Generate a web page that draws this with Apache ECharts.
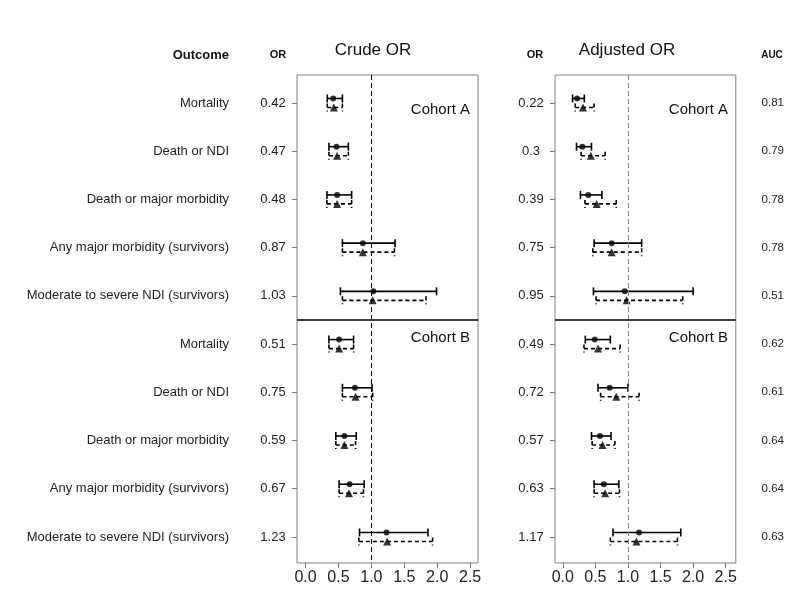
<!DOCTYPE html>
<html>
<head>
<meta charset="utf-8">
<script src="https://cdn.jsdelivr.net/npm/echarts@6/dist/echarts.min.js"></script>
<style>html,body{margin:0;padding:0;background:#fff}#c{width:787px;height:590px}</style>
</head>
<body>
<div id="c"></div>
<script>
var outcomes = ['Mortality','Death or NDI','Death or major morbidity','Any major morbidity (survivors)','Moderate to severe NDI (survivors)',
                'Mortality','Death or NDI','Death or major morbidity','Any major morbidity (survivors)','Moderate to severe NDI (survivors)'];
var rows = [0,1,2,3,4,5,6,7,8,9];
var crudeORLabels = ['0.42','0.47','0.48','0.87','1.03','0.51','0.75','0.59','0.67','1.23'];
var adjORLabels   = ['0.22','0.3','0.39','0.75','0.95','0.49','0.72','0.57','0.63','1.17'];
var aucLabels     = ['0.81','0.79','0.78','0.78','0.51','0.62','0.61','0.64','0.64','0.63'];
var xTicks = [0,0.5,1,1.5,2,2.5];

// Crude OR panel
var crudeSolidPt = [0.42,0.47,0.48,0.87,1.03,0.51,0.75,0.59,0.67,1.23];
var crudeSolidLo = [0.33,0.355,0.325,0.56,0.53,0.355,0.56,0.46,0.51,0.82];
var crudeSolidHi = [0.56,0.65,0.70,1.36,1.99,0.73,1.01,0.77,0.89,1.86];
var crudeDashPt  = [0.43,0.48,0.48,0.87,1.02,0.51,0.76,0.59,0.66,1.24];
var crudeDashLo  = [0.33,0.355,0.325,0.56,0.56,0.355,0.56,0.46,0.51,0.81];
var crudeDashHi  = [0.56,0.65,0.70,1.35,1.83,0.73,1.02,0.76,0.88,1.93];

// Adjusted OR panel
var adjSolidPt = [0.22,0.30,0.39,0.75,0.95,0.49,0.72,0.57,0.63,1.17];
var adjSolidLo = [0.15,0.21,0.27,0.48,0.47,0.345,0.54,0.44,0.48,0.77];
var adjSolidHi = [0.33,0.44,0.60,1.21,2.00,0.73,1.00,0.74,0.86,1.81];
var adjDashPt  = [0.31,0.43,0.52,0.75,0.98,0.54,0.82,0.61,0.65,1.13];
var adjDashLo  = [0.19,0.28,0.34,0.46,0.51,0.325,0.58,0.45,0.48,0.73];
var adjDashHi  = [0.48,0.65,0.82,1.21,1.84,0.88,1.17,0.80,0.87,1.76];

var FONT = '"Liberation Sans", Arial, sans-serif';

function barData(lo, hi){ return rows.map(function(r){ return [lo[r], hi[r], r]; }); }
function ptData(pt){ return rows.map(function(r){ return [pt[r], r]; }); }

function barRender(offset, dashed){
  return function(params, api){
    var a = api.coord([api.value(0), api.value(2)]);
    var b = api.coord([api.value(1), api.value(2)]);
    var y = a[1] + offset;
    var st = {stroke:'#000', lineWidth:1.6, lineDash: dashed ? [4,3] : null, fill:null};
    return {type:'group', children:[
      {type:'line', shape:{x1:a[0], y1:y, x2:b[0], y2:y}, style:st},
      {type:'line', shape:{x1:a[0], y1:y-4, x2:a[0], y2:y+4}, style:st},
      {type:'line', shape:{x1:b[0], y1:y-4, x2:b[0], y2:y+4}, style:st}
    ]};
  };
}

function xAxisFor(g, mn, mx){
  return {gridIndex:g, type:'value', min:mn, max:mx, position:'bottom',
    axisLine:{show:false, onZero:false}, splitLine:{show:false},
    axisTick:{show:true, customValues:xTicks, length:5, lineStyle:{color:'#777'}},
    axisLabel:{customValues:xTicks, formatter:function(v){return v.toFixed(1);}, fontSize:16, color:'#222', fontFamily:FONT, margin:7}};
}
function yAxisFor(g, labels, opts){
  return {gridIndex:g, type:'value', inverse:true, min:-0.58, max:9.54,
    position: opts.position || 'left',
    axisLine:{show:false, onZero:false}, splitLine:{show:false},
    axisTick:{show: !!opts.tick, customValues:rows, length:5, lineStyle:{color:'#777'}},
    axisLabel:{customValues:rows, formatter:function(v){return labels[Math.round(v)];},
      align: opts.align, margin: opts.margin, fontSize: opts.size, color:'#222', fontFamily:FONT}};
}

function panelSeries(xi, yi, sLo, sHi, sPt, dLo, dHi, dPt, refColor){
  return [
    {type:'custom', xAxisIndex:xi, yAxisIndex:yi, renderItem:barRender(-4.5,false), data:barData(sLo,sHi), encode:{x:[0,1], y:2}, z:3,
     markLine:{silent:true, symbol:'none', label:{show:false},
       data:[
         {xAxis:1, lineStyle:{type:[5,3], color:refColor, width:1}},
         {yAxis:4.5, lineStyle:{type:'solid', color:'#000', width:1.5}}
       ]}},
    {type:'custom', xAxisIndex:xi, yAxisIndex:yi, renderItem:barRender(4.5,true), data:barData(dLo,dHi), encode:{x:[0,1], y:2}, z:3},
    {type:'scatter', xAxisIndex:xi, yAxisIndex:yi, data:ptData(sPt), symbol:'circle', symbolSize:6, symbolOffset:[0,-4.5], itemStyle:{color:'#000'}, z:4},
    {type:'scatter', xAxisIndex:xi, yAxisIndex:yi, data:ptData(dPt), symbol:'triangle', symbolSize:8, symbolOffset:[0,4.5], itemStyle:{color:'#000'}, z:4}
  ];
}

function txt(x, y, s, size, weight, align){
  return {type:'text', x:x, y:y, style:{text:s, font:(weight||'normal')+' '+size+'px '+FONT, fill:'#111', align:align||'center', verticalAlign:'middle'}};
}

var chart = echarts.init(document.getElementById('c'), null, {renderer:'canvas'});
chart.setOption({
  animation:false,
  backgroundColor:'#fff',
  grid:[
    {left:297, top:75, width:181, height:488, show:true, borderColor:'#808080', borderWidth:1, backgroundColor:'transparent'},
    {left:555, top:75, width:182, height:488, show:true, borderColor:'#808080', borderWidth:1, backgroundColor:'transparent'}
  ],
  xAxis:[ xAxisFor(0, -0.13, 2.62), xAxisFor(1, -0.12, 2.655) ],
  yAxis:[
    yAxisFor(0, crudeORLabels, {tick:true, align:'center', margin:24, size:13}),
    yAxisFor(0, outcomes, {tick:false, align:'right', margin:68, size:13}),
    yAxisFor(1, adjORLabels, {tick:true, align:'center', margin:24, size:13}),
    yAxisFor(1, aucLabels, {tick:false, align:'center', margin:37, size:11.5, position:'right'})
  ],
  series: [].concat(
    panelSeries(0, 0, crudeSolidLo, crudeSolidHi, crudeSolidPt, crudeDashLo, crudeDashHi, crudeDashPt, '#000'),
    panelSeries(1, 2, adjSolidLo, adjSolidHi, adjSolidPt, adjDashLo, adjDashHi, adjDashPt, '#888')
  ),
  graphic:[
    txt(229, 55, 'Outcome', 13, 'bold', 'right'),
    txt(278, 55, 'OR', 11, 'bold'),
    txt(535, 55, 'OR', 11, 'bold'),
    txt(772, 55, 'AUC', 10, 'bold'),
    txt(373, 50, 'Crude OR', 17, 'normal'),
    txt(627, 50, 'Adjusted OR', 17, 'normal'),
    txt(470, 110, 'Cohort A', 15, 'normal', 'right'),
    txt(470, 338, 'Cohort B', 15, 'normal', 'right'),
    txt(728, 110, 'Cohort A', 15, 'normal', 'right'),
    txt(728, 338, 'Cohort B', 15, 'normal', 'right')
  ]
});
</script>
</body>
</html>
